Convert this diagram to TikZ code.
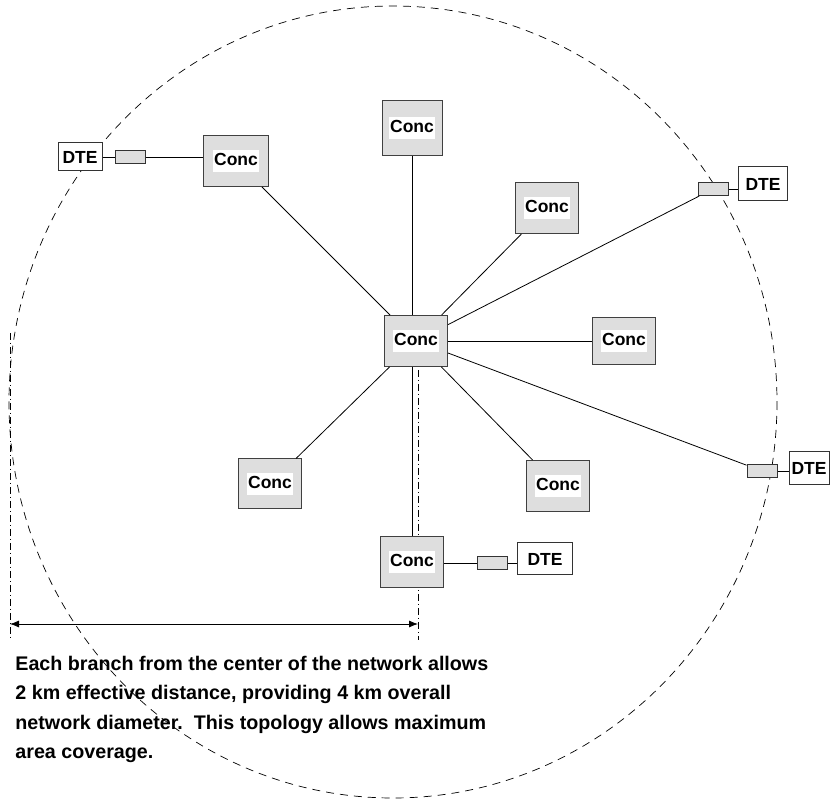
\documentclass[tikz,border=0pt]{standalone}
\usepackage{fontspec}
\setmainfont{Liberation Sans}
\usetikzlibrary{arrows.meta}
\newcommand{\conc}{{\setlength{\fboxsep}{1pt}\colorbox{white}{\rule[-5pt]{0pt}{20pt}Conc}}}

\begin{document}
\begin{tikzpicture}[x=1pt,y=-1pt,line width=0.8pt,
    font=\fontsize{17.5}{20}\selectfont\bfseries,
    cbox/.style={draw=black!75,line width=1pt,fill=black!13,minimum width=63pt,minimum height=51pt,inner sep=0pt},
    dte/.style={draw=black!80,line width=1pt,fill=white,minimum width=46pt,minimum height=31pt,inner sep=0pt},
    tap/.style={draw=black!80,line width=1pt,fill=black!13,minimum width=30pt,minimum height=13pt,inner sep=0pt},
    spanline/.style={line width=0.7pt,dash pattern=on 7pt off 3pt on 1pt off 3pt}]
      \useasboundingbox (0,0) rectangle (831,799);
      \draw [dash pattern=on 8pt off 6pt,line width=0.7pt] (393,402) ellipse [x radius=384, y radius=396];

      \coordinate (axL) at (10,624);
      \coordinate (axR) at (418,624);
      \draw [spanline] (10,333) -- (10,640);
      \draw [spanline] (418,370) -- (418,640);
      \draw [{Latex[length=9pt,width=7pt]}-{Latex[length=9pt,width=7pt]}] (axL) -- (axR);

      \node (hub) [cbox] at (416,341) {\conc};
      \node (cT)  [cbox,minimum width=60pt,minimum height=55pt] at (412,128) {\conc};
      \node (cTL) [cbox,minimum width=65pt] at (236,161) {\conc};
      \node (cTR) [cbox] at (547,208) {\conc};
      \node (cR)  [cbox,minimum height=47pt] at (624,341) {\conc};
      \node (cBL) [cbox,minimum height=50pt] at (270,484) {\conc};
      \node (cBR) [cbox] at (558,486) {\conc};
      \node (cB)  [cbox] at (412,562) {\conc};

      \node (tTL) [tap] at (130,157) {};
      \node (tTR) [tap] at (713,189) {};
      \node (tR)  [tap] at (762,471) {};
      \node (tB)  [tap] at (492,563) {};

      \node (dTL) [dte,minimum width=44pt,minimum height=28pt] at (80,157) {DTE};
      \node (dTR) [dte,minimum width=49pt,minimum height=34pt] at (763,184) {DTE};
      \node (dR)  [dte,minimum width=40pt,minimum height=33pt] at (809,468) {DTE};
      \node (dB)  [dte,minimum width=55pt,minimum height=32pt] at (545,559) {DTE};

      \draw (hub.north -| cT) -- (cT);
      \draw (hub) -- (cTL);
      \draw (hub) -- (cTR);
      \draw (hub) -- (tTR);
      \draw (hub) -- (cR);
      \draw (hub) -- (tR);
      \draw (hub) -- (cBR);
      \draw (hub.south -| cB) -- (cB);
      \draw (hub) -- (cBL);

      \draw (dTL) -- (tTL);
      \draw (tTL.east) -- (cTL.west |- tTL);
      \draw (tTR.east) -- (dTR.west |- tTR);
      \draw (tR.east) -- (dR.west |- tR);
      \draw (cB.east |- tB) -- (tB.west);
      \draw (tB.east) -- (dB.west |- tB);

      \node (note) [anchor=north west,align=left,inner sep=0pt,
        font=\fontsize{19.7}{29.5}\selectfont\bfseries] at (15,655.5)
        {Each branch from the center of the network allows\\
         2 km effective distance, providing 4 km overall\\
         network diameter.\ \ This topology allows maximum\\
         area coverage.};
    \end{tikzpicture}
\end{document}
